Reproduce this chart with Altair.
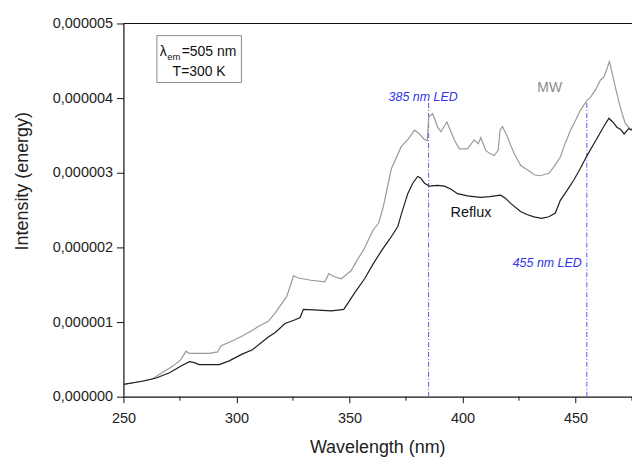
import altair as alt
import pandas as pd

FONT = "Liberation Sans"

# Reflux spectrum (wavelength nm, intensity in 1e-6 units)
wl_reflux = [250, 255, 258.8, 264.5, 270.4, 275.5, 279.2, 281, 283.6, 288, 292.4, 296.8,
             302.5, 307.1, 314.1, 317.2, 321.5, 326.0, 328.2, 329.6, 336.2, 342, 347.5,
             352.3, 356.7, 360.5, 364.5, 368, 371.4, 373, 375.8, 378, 380.2, 381.5, 383.2,
             385.4, 389, 392, 395, 397.8, 402.2, 405, 408.1, 412, 416.9, 419, 421.3, 425.7,
             428.5, 431.6, 435, 438.2, 441.1, 443.3, 446, 449.2, 452, 455.1, 459.5, 462.5,
             464.8, 466.5, 468.3, 470, 471.5, 473.5, 475]
int_reflux = [0.164, 0.19, 0.21, 0.25, 0.32, 0.41, 0.47, 0.46, 0.43, 0.43, 0.43, 0.48,
              0.57, 0.63, 0.80, 0.86, 0.98, 1.03, 1.06, 1.17, 1.16, 1.15, 1.17,
              1.39, 1.58, 1.78, 1.97, 2.12, 2.28, 2.45, 2.72, 2.86, 2.95, 2.93, 2.86,
              2.82, 2.83, 2.82, 2.78, 2.72, 2.69, 2.68, 2.67, 2.68, 2.70, 2.66, 2.59, 2.48,
              2.44, 2.41, 2.39, 2.41, 2.46, 2.63, 2.75, 2.90, 3.05, 3.23, 3.46, 3.62,
              3.73, 3.68, 3.61, 3.58, 3.52, 3.59, 3.57]

# MW spectrum
wl_mw = [250, 255, 258.8, 263, 266, 271.9, 275.5, 277.7, 279.2, 284, 288, 291.7, 293.1,
         298.3, 302.4, 307.1, 309.7, 314.1, 317.1, 322.2, 324, 325.2, 327.4, 333, 339.1,
         340.9, 343, 346.4, 350.8, 353, 356.3, 360.4, 363, 365, 368.5, 372.9, 376, 378.8,
         381, 383, 384.4, 385.1, 386.8, 388, 389, 390.5, 393.1, 394.5, 396.4, 398.6,
         402.2, 405.2, 407, 408.1, 410.3, 412, 414, 415.8, 416.6, 417.7, 419.9, 422.8,
         425.7, 430.1, 432, 434.5, 436.5, 438.2, 440.4, 443.3, 445.5, 447.8, 450, 452.2,
         455.1, 456.6, 459, 461, 462.5, 463.5, 465.0, 466.5, 467.6, 469.8, 472, 473.5, 475]
int_mw = [0.164, 0.19, 0.21, 0.24, 0.30, 0.41, 0.50, 0.61, 0.58, 0.58, 0.58, 0.60, 0.68,
          0.75, 0.81, 0.89, 0.94, 1.01, 1.12, 1.34, 1.50, 1.62, 1.59, 1.56, 1.54,
          1.65, 1.61, 1.58, 1.69, 1.81, 1.97, 2.23, 2.33, 2.55, 3.05, 3.35, 3.45, 3.57,
          3.52, 3.45, 3.43, 3.75, 3.79, 3.70, 3.61, 3.55, 3.68, 3.58, 3.44, 3.32,
          3.32, 3.44, 3.39, 3.47, 3.30, 3.26, 3.23, 3.30, 3.57, 3.62, 3.48, 3.26,
          3.10, 3.01, 2.97, 2.96, 2.98, 2.99, 3.08, 3.21, 3.40, 3.57, 3.70, 3.84,
          3.97, 4.01, 4.12, 4.24, 4.28, 4.36, 4.49, 4.30, 4.15, 3.88, 3.66, 3.61, 3.58]

led_wl = [385, 455]
led_top = 3.95
x_major = [250, 300, 350, 400, 450]
x_minor = [275, 325, 375, 425, 475]
y_ticks = [0, 1, 2, 3, 4, 5]

df = pd.concat([
    pd.DataFrame({"wl": wl_mw, "I": int_mw, "series": "MW"}),
    pd.DataFrame({"wl": wl_reflux, "I": int_reflux, "series": "Reflux"}),
])

W, H = 511, 375
xs = alt.Scale(domain=[250, 475], nice=False, zero=False)
ys = alt.Scale(domain=[0, 5], nice=False, zero=False)

X_AX = alt.Axis(
    values=x_major, tickSize=6, labelPadding=9, labelFontSize=14.5,
    title="Wavelength (nm)", titleFontSize=18, titleFontWeight="normal",
    titleX=255, titleY=56, titleBaseline="alphabetic", titleAlign="center",
    grid=False, labelFlush=False)
Y_AX = alt.Axis(
    values=y_ticks, tickSize=7, labelPadding=4, labelFontSize=14.5,
    labelExpr="replace(format(datum.value * 1e-6, '.6f'), '.', ',')",
    title="Intensity (energy)", titleFontSize=18, titleFontWeight="normal",
    titleX=-101.5, titleY=158, titleAngle=-90, titleBaseline="middle",
    titleAlign="center", grid=False, labelFlush=False)


def X(field):
    return alt.X(field, type="quantitative", scale=xs, axis=X_AX)


def Y(field):
    return alt.Y(field, type="quantitative", scale=ys, axis=Y_AX)


lines = alt.Chart(df).mark_line(strokeWidth=1.2, clip=True).encode(
    x=X("wl"), y=Y("I"),
    color=alt.Color("series:N", scale=alt.Scale(domain=["MW", "Reflux"],
                                                range=["#9a9a9a", "#1e1e1e"]), legend=None),
)

led = alt.Chart(pd.DataFrame({"wl": led_wl, "bottom": [0, 0], "top": [led_top, led_top]})).mark_rule(
    color="#6a6aee", strokeDash=[5, 2, 1, 2], strokeWidth=1.1).encode(
    x=X("wl"), y=Y("bottom"), y2="top:Q",
)

top_border = alt.Chart(pd.DataFrame({"a": [250], "b": [475], "y": [5]})).mark_rule(
    color="#111", strokeWidth=1.2).encode(
    x=X("a"), x2="b:Q", y=Y("y"),
)

minor = alt.Chart(pd.DataFrame({"wl": x_minor})).mark_rule(color="#111", strokeWidth=1).encode(
    x=X("wl"), y=alt.value(H), y2=alt.value(H + 4),
)

box = alt.Chart(pd.DataFrame({"x1": [264.8], "x2": [302.2], "y1": [4.837], "y2": [4.21]})).mark_rect(
    fill="white", stroke="#8a8a8a", strokeWidth=1).encode(
    x=X("x1"), x2="x2:Q", y=Y("y1"), y2="y2:Q",
)


def label(text, x, y, size, color, style="normal", align="center"):
    return alt.Chart(pd.DataFrame({"x": [x], "y": [y]})).mark_text(
        text=text, fontSize=size, color=color, fontStyle=style, align=align,
        baseline="alphabetic", font=FONT).encode(x=X("x"), y=Y("y"))


texts = [
    label("λ", 266.1, 4.57, 14, "#111", align="left"),
    label("em", 269.4, 4.51, 9.5, "#111", align="left"),
    label("=505 nm", 275.8, 4.57, 14, "#111", align="left"),
    label("T=300 K", 283.5, 4.303, 14, "#111"),
    label("385 nm LED", 382.6, 3.955, 12.5, "#3333ee", style="italic"),
    label("455 nm LED", 437.5, 1.736, 12.5, "#3333ee", style="italic"),
    label("MW", 438.6, 4.08, 14, "#8c8c8c"),
    label("Reflux", 403.8, 2.403, 14.5, "#111"),
]

chart = alt.layer(box, led, lines, top_border, minor, *texts).properties(
    width=W, height=H, autosize="none",
    padding={"left": 124, "top": 22.5, "right": 0, "bottom": 59.5},
).configure_view(stroke=None).configure_axis(
    domainColor="#111", tickColor="#111", labelColor="#222", titleColor="#222",
    labelFont=FONT, titleFont=FONT, domainWidth=1.2, tickWidth=1,
)

chart.save("out.html", embed_options={"renderer": "svg", "actions": False})
